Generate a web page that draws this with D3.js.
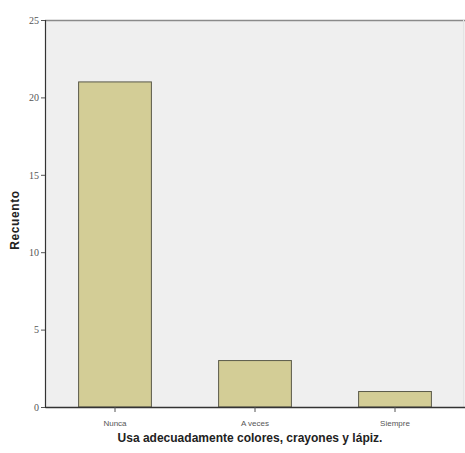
<!DOCTYPE html>
<html><head><meta charset="utf-8">
<script src="https://cdn.jsdelivr.net/npm/d3@7"></script>
<style>body{margin:0;background:#fff}svg{display:block}</style>
</head><body>
<script>
const categories = ["Nunca", "A veces", "Siempre"];
const counts = [21, 3, 1];
const yTicks = [0, 5, 10, 15, 20, 25];
const xTitle = "Usa adecuadamente colores, crayones y lápiz.";
const yTitle = "Recuento";

(function () {
const W = 465, H = 453;
const pLeft = 45, pRight = 465, pTop = 20, pBottom = 407;
const svg = d3.select("body").append("svg").attr("width", W).attr("height", H);

const x = d3.scaleBand().domain(categories).range([pLeft, pRight]).padding(0);
const y = d3.scaleLinear().domain([0, 25]).range([pBottom, pTop]);

svg.append("rect").attr("x", pLeft).attr("y", pTop).attr("width", pRight - pLeft).attr("height", pBottom - pTop).attr("fill", "#efefef");
svg.append("line").attr("x1", pLeft).attr("x2", pRight).attr("y1", pTop + 0.5).attr("y2", pTop + 0.5).attr("stroke", "#8a8a8a").attr("stroke-width", 1.5);
svg.append("line").attr("x1", 463.5).attr("x2", 463.5).attr("y1", pTop).attr("y2", pBottom).attr("stroke", "#e4e4e4").attr("stroke-width", 1);

const bw = x.bandwidth() * 0.52;
svg.selectAll("rect.bar").data(categories).enter().append("rect").attr("class", "bar")
  .attr("x", d => x(d) + (x.bandwidth() - bw) / 2)
  .attr("y", (d, i) => y(counts[i]))
  .attr("width", bw)
  .attr("height", (d, i) => y(0) - y(counts[i]))
  .attr("fill", "#d3cd96").attr("stroke", "#5a5a4a").attr("stroke-width", 1);

const ya = svg.append("g").attr("transform", `translate(${pLeft},0)`)
  .call(d3.axisLeft(y).tickValues(yTicks).tickSize(4).tickPadding(2));
ya.select(".domain").attr("stroke", "#333").attr("stroke-width", 1.2);
ya.selectAll("line").attr("stroke", "#555");
ya.selectAll("text").attr("font-family", "Liberation Serif, serif").attr("font-size", 10).attr("fill", "#555");

const xa = svg.append("g").attr("transform", `translate(0,${pBottom})`)
  .call(d3.axisBottom(x).tickSize(5).tickPadding(8).tickSizeOuter(0));
xa.select(".domain").attr("stroke", "#333").attr("stroke-width", 1.5);
xa.selectAll("line").attr("stroke", "#555");
xa.selectAll("text").attr("font-family", "Liberation Sans, Arial, sans-serif").attr("font-size", 8).attr("fill", "#555");

svg.append("text").attr("x", 250).attr("y", 442).attr("text-anchor", "middle")
  .attr("font-family", "Liberation Sans, Arial, sans-serif").attr("font-weight", "bold").attr("font-size", 12)
  .attr("fill", "#222").text(xTitle);
svg.append("text").attr("transform", "translate(19,220) rotate(-90)").attr("text-anchor", "middle")
  .attr("font-family", "Liberation Sans, Arial, sans-serif").attr("font-weight", "bold").attr("font-size", 12)
  .attr("fill", "#222").attr("letter-spacing", 0.6).text(yTitle);
})();
</script>
</body></html>
